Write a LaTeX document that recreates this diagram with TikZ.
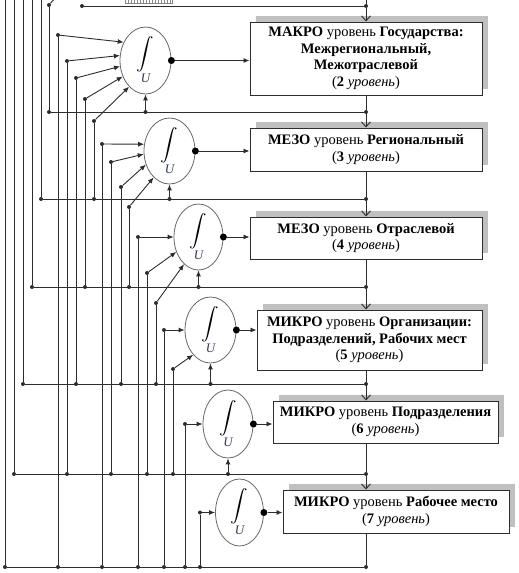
\documentclass[tikz,border=0pt]{standalone}
\usepackage{fontspec}
\usepackage{graphicx}
\setmainfont{Liberation Serif}
\usetikzlibrary{arrows.meta,shapes.geometric,shadows,calc}
\definecolor{linec}{RGB}{45,45,45}
\definecolor{ellc}{RGB}{105,105,105}
\definecolor{shc}{RGB}{192,192,192}
\definecolor{uc}{RGB}{45,55,90}
\tikzset{
  ln/.style={draw=linec, line width=0.9pt},
  dot/.style={circle, fill=linec, inner sep=0pt, minimum size=4pt},
  bigdot/.style={circle, fill=black, inner sep=0pt, minimum size=7pt},
  integ/.style={ellipse, draw=ellc, line width=0.8pt, fill=white, inner sep=0pt},
  lvl/.style={rectangle, draw=linec, line width=1pt, fill=white, align=center, inner sep=0pt,
    font=\fontsize{14.5}{16.5}\selectfont,
    drop shadow={shadow xshift=6pt, shadow yshift=6pt, fill=shc, opacity=1}},
  tip/.style={-{Latex[length=6pt,width=5pt]}},
  vtip/.style={-{Straight Barb[length=5pt,width=9pt]}},
  intsym/.style={inner sep=0pt},
  usym/.style={inner sep=0pt, text=uc, font=\fontsize{13}{13}\selectfont\itshape},
}
\begin{document}
\begin{tikzpicture}[x=1pt,y=-1pt]
\clip (0,0) rectangle (519,573);
% partial strip at the top
\draw[shc!70!black, line width=0.6pt] (125,-2) rectangle (172,3);
\foreach \i in {128,131,...,170} \draw[shc!70!black, line width=0.5pt] (\i,0) -- (\i,3);

% level boxes
\node[lvl, minimum width=232pt, minimum height=73pt] (B2) at (366,58.5)
  {\textbf{МАКРО} уровень \textbf{Государства:}\\ \textbf{Межрегиональный,}\\ \textbf{Межотраслевой}\\ (\textbf{2} \textit{уровень})};
\node[lvl, minimum width=232pt, minimum height=43pt] (B3) at (366,149.5)
  {\textbf{МЕЗО} уровень \textbf{Региональный}\\ (\textbf{3} \textit{уровень})};
\node[lvl, minimum width=232pt, minimum height=42pt] (B4) at (366,238)
  {\textbf{МЕЗО} уровень \textbf{Отраслевой}\\ (\textbf{4} \textit{уровень})};
\node[lvl, minimum width=225pt, minimum height=60pt] (B5) at (369.5,340)
  {\textbf{МИКРО} уровень \textbf{Организации:}\\ \textbf{Подразделений, Рабочих мест}\\ (\textbf{5} \textit{уровень})};
\node[lvl, minimum width=225pt, minimum height=42pt] (B6) at (385.5,422)
  {\textbf{МИКРО} уровень \textbf{Подразделения}\\ (\textbf{6} \textit{уровень})};
\node[lvl, minimum width=226pt, minimum height=43pt] (B7) at (396,511.5)
  {\textbf{МИКРО} уровень \textbf{Рабочее место}\\ (\textbf{7} \textit{уровень})};

% integrators
\foreach \k/\x/\y/\w/\h in {1/145.5/60.5/51/67, 2/169.5/151/51/66, 3/198.5/237/49/66,
                            4/210.5/330/51/66, 5/228/424/50/68, 6/239.5/512.5/48/67}{
  \node[integ, minimum width=\w pt, minimum height=\h pt] (E\k) at (\x,\y) {};
  \node[intsym] (I\k) at ($(E\k.center)+(0,-6)$) {\scalebox{1.75}[1.6]{$\displaystyle\int$}};
  \node[usym] (U\k) at ($(E\k.center)+(0,18)$) {U};
}

% spine dots and left ends of the level lines
\foreach \k/\y/\xl in {1/6/82, 2/112/49, 3/199/41, 4/287/32, 5/384/23, 6/474/14, 7/567/5}{
  \node[dot] (s\k) at (366,\y) {};
  \node[dot] (h\k) at (\xl,\y) {};
  \draw[ln] (h\k) -- (s\k);
}
\coordinate (s0) at (366,0);
\draw[ln] (s0) -- (s1);
\draw[ln,vtip] (s1) -- (s1 |- B2.north);
\draw[ln] (s2 |- B2.south) -- (s2);
\draw[ln,vtip] (s2) -- (s2 |- B3.north);
\draw[ln] (s3 |- B3.south) -- (s3);
\draw[ln,vtip] (s3) -- (s3 |- B4.north);
\draw[ln] (s4 |- B4.south) -- (s4);
\draw[ln,vtip] (s4) -- (s4 |- B5.north);
\draw[ln] (s5 |- B5.south) -- (s5);
\draw[ln,vtip] (s5) -- (s5 |- B6.north);
\draw[ln] (s6 |- B6.south) -- (s6);
\draw[ln,vtip] (s6) -- (s6 |- B7.north);
\draw[ln] (s7 |- B7.south) -- (s7);

% verticals towards the (cut-off) first level
\node[dot] (t2) at (49,5) {};
\coordinate (t2d) at (56,-3);
\draw[ln] (t2) -- (t2d);
\draw[ln] (t2) -- (h2);
\foreach \k/\x in {3/41, 4/32, 5/23, 6/14, 7/5}{
  \coordinate (t\k) at (\x,0);
  \draw[ln] (t\k) -- (h\k);
}

% inputs of the integrators
\foreach \n/\e/\x/\yt/\yb/\ang in {
  11/1/58/35/567/140, 12/1/67/61/474/169, 13/1/76/78/384/193, 14/1/85/99/287/215, 15/1/94/121/199/238,
  21/2/102/144/567/165, 22/2/111/162/474/187, 23/2/121/187/384/210, 24/2/129/207/287/239,
  31/3/138/237/567/180, 32/3/147/273/474/214, 33/3/156/303/384/242,
  41/4/164/330/567/180, 42/4/173/369/474/235,
  51/5/185/424/567/180,
  61/6/200/512.5/567/180}{
  \node[dot] (p\n) at (\x,\yt) {};
  \node[dot] (q\n) at (\x,\yb) {};
  \draw[ln] (p\n) -- (q\n);
  \draw[ln,tip] (p\n) -- (E\e.\ang);
}

% feedback from the own level (from below)
\foreach \k/\l in {1/2, 2/3, 3/4, 4/5, 5/6}{
  \node[dot] (u\k) at (E\k.south |- s\l) {};
  \draw[ln,tip] (u\k) -- (E\k.south);
}

% outputs of the integrators
\foreach \k/\b in {1/2, 2/3, 3/4, 4/5, 5/6, 6/7}{
  \node[bigdot] (o\k) at (E\k.east) {};
  \draw[ln,tip] (o\k) -- (o\k -| B\b.west);
}
\end{tikzpicture}
\end{document}
